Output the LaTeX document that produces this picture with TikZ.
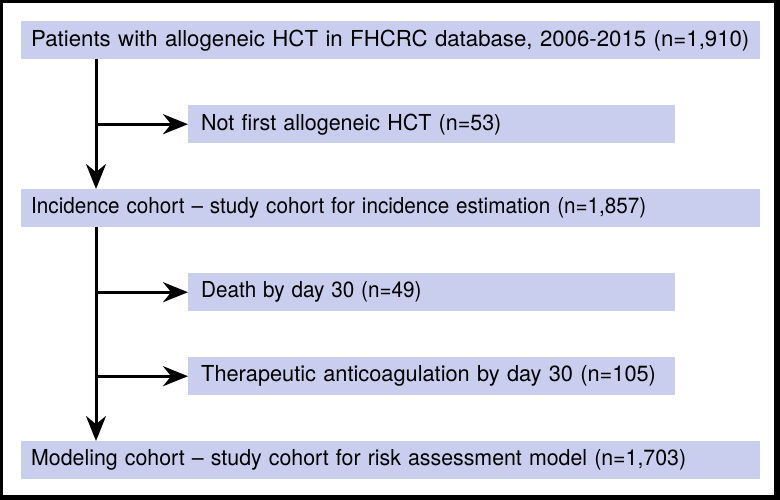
\documentclass[tikz,border=0pt]{standalone}
\usepackage{fontspec}
\usepackage{graphicx}
\setmainfont{TeX Gyre Heros}
\usetikzlibrary{arrows.meta}
\definecolor{boxlav}{HTML}{C9CEEE}
\newcommand{\hsquash}[2]{\scalebox{#1}[1]{#2}}

\begin{document}
\begin{tikzpicture}[x=1pt, y=-1pt,
    mainbox/.style={fill=boxlav, anchor=north west, minimum height=38pt,
      minimum width=739pt, text width=719pt, inner xsep=10pt, align=left,
      font=\fontsize{22}{26}\selectfont},
    sidebox/.style={mainbox, minimum width=487pt, text width=461pt, inner xsep=13pt},
    flow/.style={line width=3pt, -{Stealth[length=25pt, width=20pt]}}]

        % Frame
        \fill (0,0) rectangle (780,500);
        \fill[white] (3,3) rectangle (774,495);

        % Nodes
        \node[mainbox] (patients) at (21,21) {\hsquash{1.01}{Patients with allogeneic HCT in FHCRC database, 2006-2015 (n=1,910)}};
        \node[sidebox] (notfirst) at (188,105) {\hsquash{0.977}{Not first allogeneic HCT (n=53)}};
        \node[mainbox] (incidence) at (21,189) {\hsquash{0.94}{Incidence cohort -- study cohort for incidence estimation (n=1,857)}};
        \node[sidebox] (death) at (188,273) {\hsquash{0.94}{Death by day 30 (n=49)}};
        \node[sidebox] (anticoag) at (188,357) {\hsquash{0.99}{Therapeutic anticoagulation by day 30 (n=105)}};
        \node[mainbox] (modeling) at (21,441) {\hsquash{0.97}{Modeling cohort -- study cohort for risk assessment model (n=1,703)}};

        % Arrows
        \coordinate (trunk) at (96,0);
        \draw[flow] (trunk |- patients.south) -- (trunk |- incidence.north);
        \draw[flow] (trunk |- incidence.south) -- (trunk |- modeling.north);
        \draw[flow] (trunk |- notfirst.west) -- (notfirst.west);
        \draw[flow] (trunk |- death.west) -- (death.west);
        \draw[flow] (trunk |- anticoag.west) -- (anticoag.west);
    \end{tikzpicture}
\end{document}
